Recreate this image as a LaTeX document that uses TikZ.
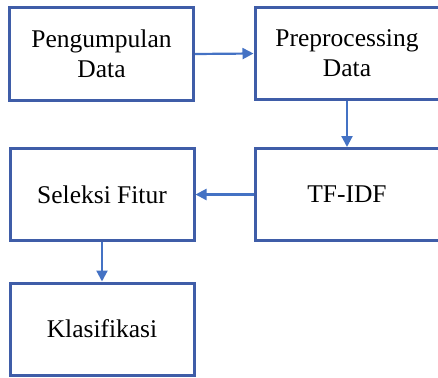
\documentclass[tikz,border=0pt]{standalone}
\usepackage{fontspec}
\setmainfont{LiberationSerif}[Extension=.ttf,UprightFont=*-Regular,BoldFont=*-Bold]
\usetikzlibrary{arrows.meta}
\definecolor{boxblue}{HTML}{3F5DA8}
\definecolor{arrblue}{HTML}{4472C4}
\begin{document}
\begin{tikzpicture}[x=1pt,y=-1pt,
  stepbox/.style={draw=boxblue,line width=3pt,fill=white,minimum width=184pt,minimum height=92pt,inner sep=0pt,align=center,font=\rmfamily\fontsize{25.5}{30}\selectfont,text=black},
  flow/.style={draw=arrblue,line width=2.2pt,-{Triangle[length=11pt,width=11pt]}}]
\useasboundingbox (0,0) rectangle (438,377);
\node[stepbox] (a) at (101.5,54) {Pengumpulan\\Data};
\node[stepbox] (b) at (347,53.5) {Preprocessing\\Data};
\node[stepbox] (c) at (347,194.5) {TF-IDF};
\node[stepbox] (d) at (102,194.5) {Seleksi Fitur};
\node[stepbox] (e) at (102,329) {Klasifikasi};
\draw[flow] (a.east) -- (b.west);
\draw[flow] (b.south) -- (c.north);
\draw[flow] (c.west) -- (d.east);
\draw[flow] (d.south) -- (e.north);
\end{tikzpicture}
\end{document}
